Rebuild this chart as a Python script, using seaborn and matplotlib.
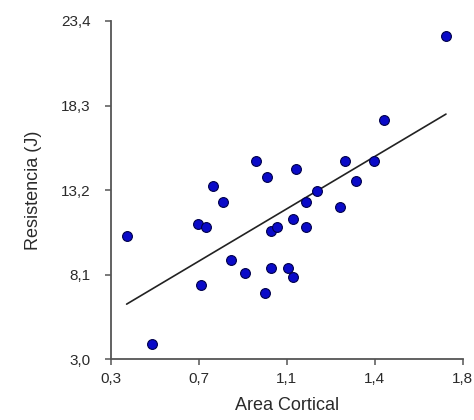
import numpy as np
import pandas as pd
import matplotlib
matplotlib.use('Agg')
import matplotlib.pyplot as plt
import seaborn as sns

# values
area_cortical = [1.729, 1.466, 0.918, 0.965, 1.089, 1.297, 1.421, 1.346, 0.735, 1.178,
                 0.777, 1.131, 1.278, 0.672, 0.707, 0.367, 1.075, 1.131, 0.984, 1.009,
                 0.811, 0.872, 0.984, 1.054, 1.075, 0.686, 0.956, 0.476]
resistencia = [22.48, 17.44, 14.95, 13.97, 14.45, 14.95, 14.95, 13.74, 13.46, 13.16,
               12.46, 12.46, 12.16, 11.15, 10.95, 10.44, 11.45, 10.95, 10.74, 10.95,
               8.96, 8.17, 8.47, 8.47, 7.97, 7.47, 7.00, 3.89]
x_ticklabels = ['0,3', '0,7', '1,1', '1,4', '1,8']
y_ticklabels = ['3,0', '8,1', '13,2', '18,3', '23,4']

df = pd.DataFrame({'Area Cortical': area_cortical, 'Resistencia (J)': resistencia})

sns.set_style('ticks')
plt.rcParams['font.family'] = ['Liberation Sans', 'DejaVu Sans']

fig = plt.figure(figsize=(4.74, 4.2), dpi=100)
ax = fig.add_axes([0.234, 0.145, 0.742, 0.805])

sns.regplot(data=df, x='Area Cortical', y='Resistencia (J)', ci=None, truncate=True, ax=ax,
            scatter_kws={'s': 50, 'color': '#0a0ac8', 'edgecolor': '#00004a',
                         'linewidths': 0.8, 'alpha': 1, 'zorder': 3},
            line_kws={'color': '#222222', 'lw': 1.2})

ax.set_xlim(0.3, 1.8)
ax.set_ylim(3.0, 23.4)
ax.set_xticks(np.linspace(0.3, 1.8, 5))
ax.set_xticklabels(x_ticklabels)
ax.set_yticks(np.linspace(3.0, 23.4, 5))
ax.set_yticklabels(y_ticklabels)

for side in ['top', 'right']:
    ax.spines[side].set_visible(False)
for side in ['left', 'bottom']:
    ax.spines[side].set_color('#555555')
    ax.spines[side].set_linewidth(1.3)
ax.tick_params(axis='both', length=4.5, width=1.1, color='#555555', labelsize=11, labelcolor='#2a2a2a')
ax.tick_params(axis='y', pad=10)
ax.tick_params(axis='x', pad=5)

ax.set_xlabel('Area Cortical', fontsize=13, color='#2a2a2a', labelpad=8)
ax.set_ylabel('Resistencia (J)', fontsize=13, color='#2a2a2a', labelpad=14)

fig.savefig('out.png', dpi=100)
